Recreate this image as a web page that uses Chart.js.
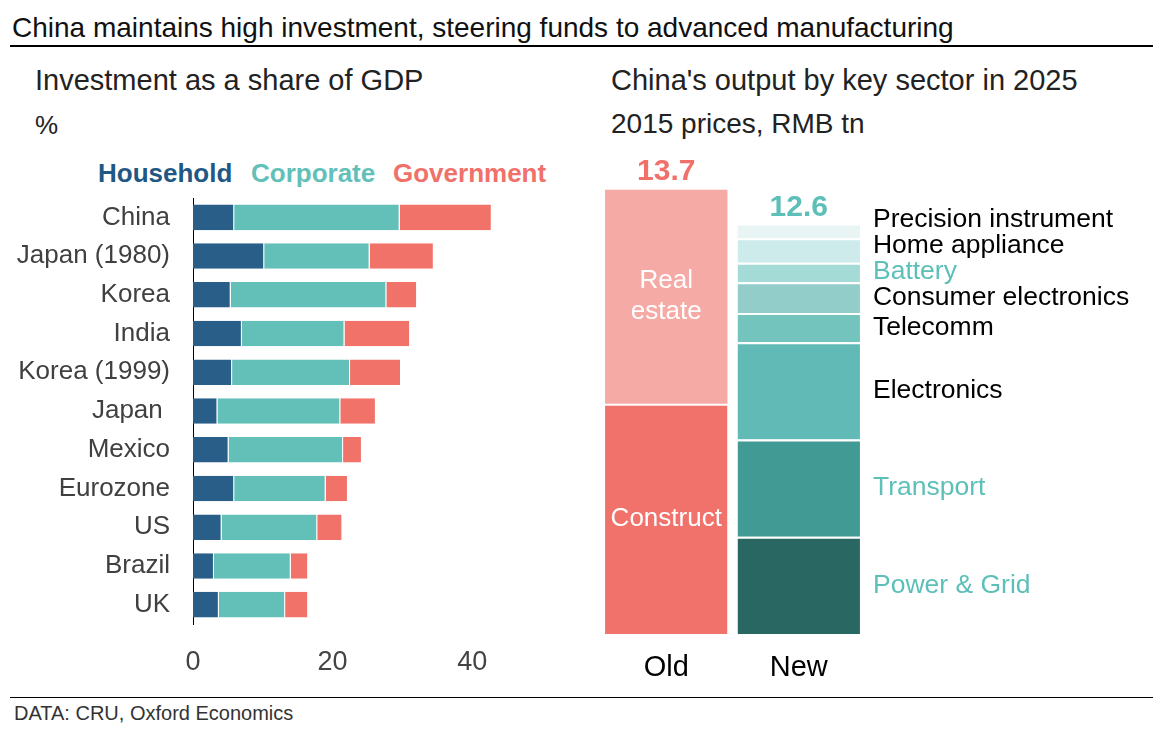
<!DOCTYPE html>
<html>
<head>
<meta charset="utf-8">
<script src="https://cdn.jsdelivr.net/npm/chart.js@4.4.1/dist/chart.umd.min.js"></script>
<style>
  body { margin: 0; background: #fff; font-family: "Liberation Sans", Arial, sans-serif; }
  #page { position: relative; width: 1173px; height: 729px; overflow: hidden; }
  .txt { position: absolute; white-space: nowrap; line-height: 1; }
  .rule { position: absolute; background: #000; }
  .box { position: absolute; }
</style>
</head>
<body>
<div id="page">
  <div class="txt" style="left:12px;top:14px;font-size:28px;color:#111;">China maintains high investment, steering funds to advanced manufacturing</div>
  <div class="rule" style="left:10px;top:45px;width:1143px;height:2px;"></div>

  <div class="txt" style="left:35px;top:66px;font-size:29px;color:#222;">Investment as a share of GDP</div>
  <div class="txt" style="left:35px;top:112px;font-size:26px;color:#222;">%</div>
  <div class="txt" style="left:611px;top:66px;font-size:29px;color:#222;">China's output by key sector in 2025</div>
  <div class="txt" style="left:611px;top:110px;font-size:28px;color:#222;">2015 prices, RMB tn</div>

  <div id="legend"></div>

  <div class="box" style="left:0;top:190px;width:580px;height:500px;"><canvas id="gdpChart"></canvas></div>
  <div class="box" style="left:590px;top:150px;width:580px;height:540px;"><canvas id="sectorChart"></canvas></div>

  <div class="rule" style="left:10px;top:697px;width:1143px;height:1px;"></div>
  <div class="txt" style="left:14px;top:703px;font-size:20px;color:#333;">DATA: CRU, Oxford Economics</div>
</div>

<script>
// -----------------------------
// Data
// -----------------------------
const countries = ["China", "Japan (1980)", "Korea", "India", "Korea (1999)", "Japan ", "Mexico", "Eurozone", "US", "Brazil", "UK"];
const household = [5.9, 10.2, 5.4, 7.0, 5.6, 3.5, 5.1, 5.9, 4.1, 3.0, 3.7];
const corporate = [23.7, 15.1, 22.3, 14.7, 16.9, 17.6, 16.4, 13.1, 13.7, 11.0, 9.5];
const government = [13.2, 9.2, 4.4, 9.4, 7.3, 5.1, 2.7, 3.2, 3.6, 2.5, 3.3];
const xTicks = [0, 20, 40];

const periods = ["Old", "New"];
const totals = [13.7, 12.6];
const oldSectors = ["Construct", "Real estate"];
const oldValues = [7.1, 6.6];
const newSectors = ["Power & Grid", "Transport", "Electronics", "Telecomm", "Consumer electronics", "Battery", "Home appliance", "Precision instrument"];
const newValues = [3.0, 3.0, 3.0, 0.9, 0.95, 0.6, 0.75, 0.4];

// -----------------------------
// Styles
// -----------------------------
const FONT = '"Liberation Sans", Arial, sans-serif';
const seriesColors = { Household: "#285e87", Corporate: "#62c0b9", Government: "#f07268" };
const legendColors = { Household: "#1f5884", Corporate: "#62c0b9", Government: "#f0716a" };
const oldColors = ["#f0726a", "#f6aaa5"];
const newColors = ["#296862", "#419a94", "#61bab5", "#74c4be", "#93cdc9", "#a5dbd7", "#cdebea", "#e9f5f5"];
const newLabelColors = ["#5cbfb8", "#5cbfb8", "#000", "#000", "#000", "#5cbfb8", "#000", "#000"];
const totalColors = ["#f0716a", "#5cbfb8"];

Chart.defaults.font.family = FONT;
Chart.defaults.animation = false;

// -----------------------------
// Legend (left panel)
// -----------------------------
const legendPos = { Household: 98, Corporate: 251, Government: 393 };
const legendDiv = document.getElementById("legend");
Object.keys(legendPos).forEach(name => {
    legendDiv.innerHTML += `<div class="txt" style="left:${legendPos[name]}px;top:160px;font-size:26px;font-weight:bold;color:${legendColors[name]};">${name}</div>`;
});

// -----------------------------
// Investment as a share of GDP
// -----------------------------
const mkSeries = (label, data) => ({
    label,
    data,
    backgroundColor: seriesColors[label],
    borderColor: "#fff",
    borderWidth: { top: 0, bottom: 0, left: 0, right: 1 },
    borderSkipped: false,
    barPercentage: 0.66,
    categoryPercentage: 1
});

new Chart(document.getElementById("gdpChart"), {
    type: "bar",
    data: {
        labels: countries,
        datasets: [
            mkSeries("Household", household),
            mkSeries("Corporate", corporate),
            mkSeries("Government", government)
        ]
    },
    options: {
        indexAxis: "y",
        responsive: true,
        maintainAspectRatio: false,
        layout: { padding: { top: 8, right: 38, left: 0, bottom: 0 } },
        plugins: { legend: { display: false }, tooltip: { enabled: false } },
        scales: {
            x: {
                stacked: true,
                min: 0,
                max: 50,
                grid: { display: false, drawTicks: false },
                border: { display: false },
                afterBuildTicks: s => { s.ticks = xTicks.map(v => ({ value: v })); },
                afterFit: s => { s.height = 66; s.paddingLeft = 0; s.paddingRight = 0; },
                ticks: { font: { size: 27 }, color: "#444", padding: 22 }
            },
            y: {
                stacked: true,
                grid: { display: false, drawTicks: false },
                border: { display: true, color: "#000", width: 1 },
                afterFit: s => { s.width = 193; s.paddingTop = 0; s.paddingBottom = 0; },
                ticks: { font: { size: 26 }, color: "#404040", padding: 23 }
            }
        }
    }
});

// -----------------------------
// China's output by key sector
// -----------------------------
const sectorDatasets = [];
oldSectors.forEach((name, i) => {
    sectorDatasets.push({
        label: name,
        data: [oldValues[i], null],
        backgroundColor: oldColors[i],
        group: "old"
    });
});
newSectors.forEach((name, i) => {
    sectorDatasets.push({
        label: name,
        data: [null, newValues[i]],
        backgroundColor: newColors[i],
        group: "new"
    });
});
// white gap on top of every segment that has another one above it
sectorDatasets.forEach((ds, i) => {
    const next = sectorDatasets[i + 1];
    ds.borderColor = "#fff";
    ds.borderSkipped = false;
    ds.borderWidth = { top: next && next.group === ds.group ? 2 : 0, bottom: 0, left: 0, right: 0 };
});

const sectorLabels = {
    id: "sectorLabels",
    afterDatasetsDraw(chart) {
        const ctx = chart.ctx;
        const yScale = chart.scales.y;
        ctx.save();
        ctx.textBaseline = "middle";

        // labels inside the old bar
        ctx.font = `26px ${FONT}`;
        ctx.fillStyle = "#fff";
        ctx.textAlign = "center";
        oldSectors.forEach((name, i) => {
            const el = chart.getDatasetMeta(i).data[0];
            const cy = (el.y + el.base) / 2;
            const lines = ctx.measureText(name).width > el.width - 6 ? name.split(" ") : [name];
            const lh = 31;
            lines.forEach((ln, k) => {
                ctx.fillText(ln, el.x, cy + (k - (lines.length - 1) / 2) * lh);
            });
        });

        // labels beside the new bar, nudged up when they crowd
        ctx.font = `26.5px ${FONT}`;
        ctx.textAlign = "left";
        let prevY = Infinity;
        newSectors.forEach((name, i) => {
            const el = chart.getDatasetMeta(oldSectors.length + i).data[1];
            let cy = (el.y + el.base) / 2;
            cy = Math.min(cy, prevY - 26);
            prevY = cy;
            ctx.fillStyle = newLabelColors[i];
            ctx.fillText(name, el.x + el.width / 2 + 13, cy);
        });

        // totals on top
        ctx.font = `bold 30px ${FONT}`;
        ctx.textAlign = "center";
        totals.forEach((t, i) => {
            const x = chart.scales.x.getPixelForValue(i);
            ctx.fillStyle = totalColors[i];
            ctx.fillText(t.toFixed(1), x, yScale.getPixelForValue(t) - 18);
        });
        ctx.restore();
    }
};

new Chart(document.getElementById("sectorChart"), {
    type: "bar",
    data: { labels: periods, datasets: sectorDatasets },
    options: {
        responsive: true,
        maintainAspectRatio: false,
        layout: { padding: { top: 30, right: 305, left: 10, bottom: 0 } },
        datasets: { bar: { barPercentage: 0.924, categoryPercentage: 1 } },
        plugins: { legend: { display: false }, tooltip: { enabled: false } },
        scales: {
            x: {
                stacked: true,
                grid: { display: false, drawTicks: false },
                border: { display: false },
                afterFit: s => { s.height = 56; },
                ticks: { font: { size: 29 }, color: "#000", padding: 17 }
            },
            y: { stacked: true, display: false, min: 0, max: 14 }
        }
    },
    plugins: [sectorLabels]
});
</script>
</body>
</html>
